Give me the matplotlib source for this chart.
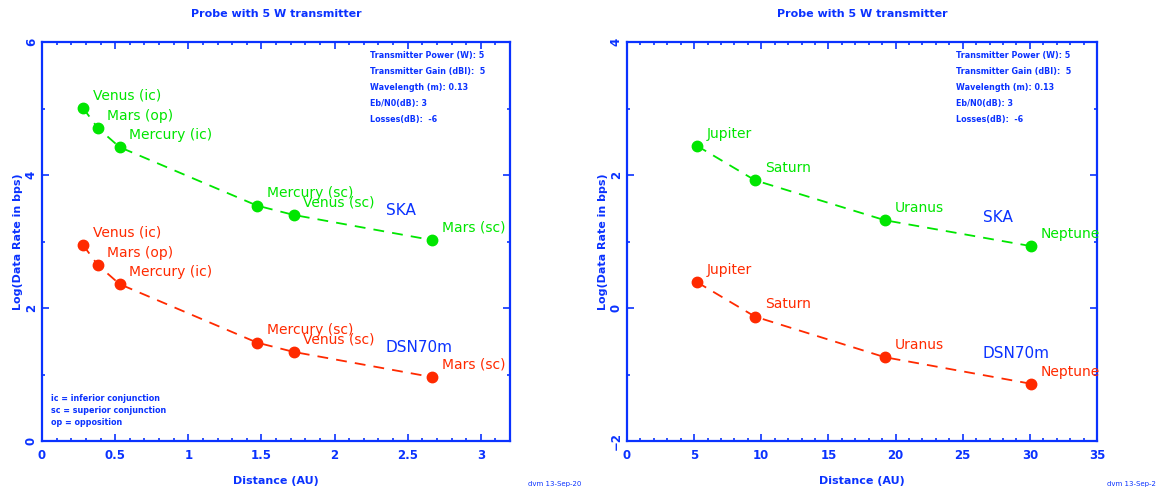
import matplotlib
matplotlib.use("Agg")
import matplotlib.pyplot as plt
from matplotlib.ticker import MultipleLocator, FuncFormatter

# ---- data ----
inner_names = ["Venus (ic)", "Mars (op)", "Mercury (ic)", "Mercury (sc)", "Venus (sc)", "Mars (sc)"]
inner_dist = [0.28, 0.38, 0.53, 1.47, 1.72, 2.67]
inner_ska = [5.01, 4.71, 4.42, 3.54, 3.40, 3.02]
inner_dsn = [2.95, 2.65, 2.36, 1.48, 1.34, 0.96]

outer_names = ["Jupiter", "Saturn", "Uranus", "Neptune"]
outer_dist = [5.2, 9.54, 19.2, 30.1]
outer_ska = [2.44, 1.92, 1.32, 0.93]
outer_dsn = [0.39, -0.13, -0.74, -1.14]

info_lines = ["Transmitter Power (W): 5", "Transmitter Gain (dBI):  5",
              "Wavelength (m): 0.13", "Eb/N0(dB): 3", "Losses(dB):  -6"]
abbrev_lines = ["ic = inferior conjunction", "sc = superior conjunction", "op = opposition"]

BLUE = "#0a32ff"
GREEN = "#00e600"
RED = "#ff2a00"

fig = plt.figure(figsize=(11.66, 4.91), dpi=100)
ax1 = fig.add_axes([42/1166, 50/491, 468/1166, 399/491])
ax2 = fig.add_axes([627/1166, 50/491, 470/1166, 399/491])

fmt = FuncFormatter(lambda v, p: ("%g" % v).replace("-", "\u2212"))


def style(ax, xlim, ylim, xmaj, xmin, ymaj, ymin):
    ax.set_xlim(*xlim)
    ax.set_ylim(*ylim)
    ax.xaxis.set_major_locator(MultipleLocator(xmaj))
    ax.xaxis.set_minor_locator(MultipleLocator(xmin))
    ax.yaxis.set_major_locator(MultipleLocator(ymaj))
    ax.yaxis.set_minor_locator(MultipleLocator(ymin))
    ax.xaxis.set_major_formatter(fmt)
    ax.yaxis.set_major_formatter(fmt)
    for s in ax.spines.values():
        s.set_color(BLUE)
        s.set_linewidth(1.6)
    ax.tick_params(which="both", direction="in", top=True, right=True, color=BLUE,
                   labelcolor=BLUE, width=1.2)
    ax.tick_params(which="major", length=5, labelsize=8.5)
    ax.tick_params(axis="x", which="major", pad=6)
    ax.tick_params(axis="y", which="major", pad=3)
    ax.tick_params(which="minor", length=2.5)
    for lab in ax.get_xticklabels():
        lab.set_fontweight("bold")
    for lab in ax.get_yticklabels():
        lab.set_fontweight("bold")
        lab.set_rotation(90)
        lab.set_va("center")
    ax.set_title("Probe with 5 W transmitter", color=BLUE, fontsize=8,
                 fontweight="bold", pad=18)
    ax.set_xlabel("Distance (AU)", color=BLUE, fontsize=8, fontweight="bold", labelpad=10)
    ax.set_ylabel("Log(Data Rate in bps)", color=BLUE, fontsize=8, fontweight="bold", labelpad=1)
    for i, t in enumerate(info_lines):
        ax.text(0.70, 0.965 - i * 0.040, t, transform=ax.transAxes, color=BLUE,
                fontsize=5.8, fontweight="bold", va="center", ha="left")


def series(ax, x, y, names, color):
    ax.plot(x, y, color=color, lw=1.3, linestyle=(0, (6, 4.5)), zorder=2)
    ax.plot(x, y, "o", color=color, markersize=7.5, linestyle="none", zorder=3)
    for xi, yi, n in zip(x, y, names):
        ax.annotate(n, (xi, yi), xytext=(7, 8.8), textcoords="offset points",
                    color=color, fontsize=10, ha="left", va="center",
                    annotation_clip=False)


style(ax1, (0, 3.2), (0, 6), 0.5, 0.1, 2, 1)
series(ax1, inner_dist, inner_ska, inner_names, GREEN)
series(ax1, inner_dist, inner_dsn, inner_names, RED)
ax1.text(2.35, 3.47, "SKA", color=BLUE, fontsize=11, ha="left", va="center")
ax1.text(2.35, 1.41, "DSN70m", color=BLUE, fontsize=11, ha="left", va="center")
for i, t in enumerate(abbrev_lines):
    ax1.text(0.02, 0.106 - i * 0.030, t, transform=ax1.transAxes, color=BLUE,
             fontsize=5.8, fontweight="bold", va="center", ha="left")

style(ax2, (0, 35), (-2, 4), 5, 1, 2, 1)
series(ax2, outer_dist, outer_ska, outer_names, GREEN)
series(ax2, outer_dist, outer_dsn, outer_names, RED)
ax2.text(26.5, 1.36, "SKA", color=BLUE, fontsize=11, ha="left", va="center")
ax2.text(26.5, -0.69, "DSN70m", color=BLUE, fontsize=11, ha="left", va="center")

fig.text(528/1166, 1 - 484/491, "dvm 13-Sep-20", color=BLUE, fontsize=5, ha="left", va="center")
fig.text(1107/1166, 1 - 484/491, "dvm 13-Sep-2", color=BLUE, fontsize=5, ha="left", va="center")

fig.savefig("out.png", dpi=100, facecolor="white")
